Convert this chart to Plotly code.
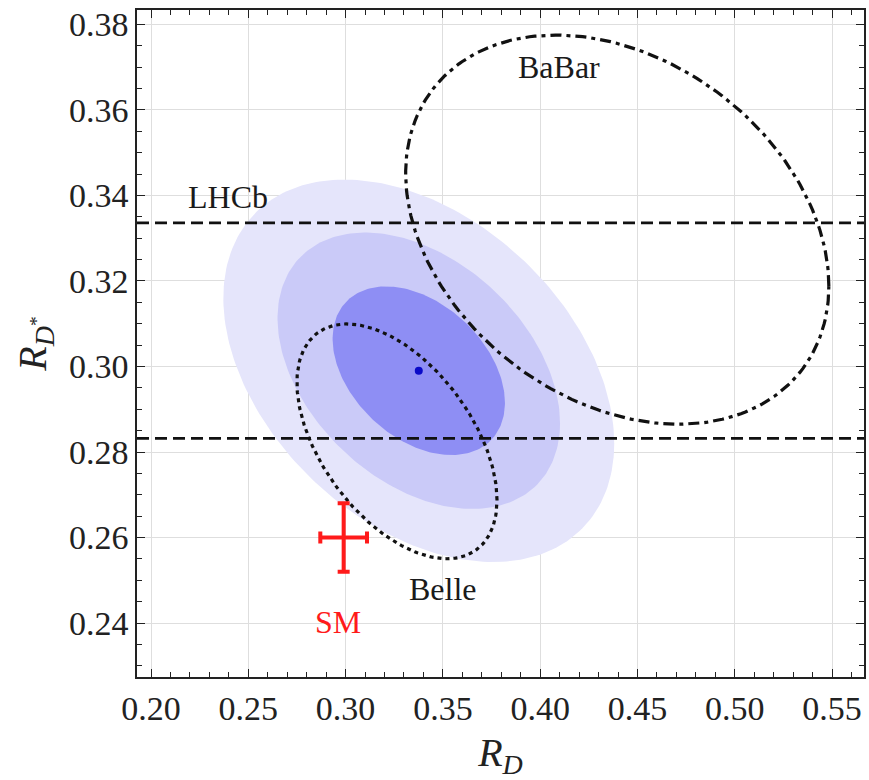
import numpy as np
import plotly.graph_objects as go

# ---- data -------------------------------------------------------------
# Global fit (filled contours): centre, uncertainties, correlation
fit_center = [0.3376, 0.2990]
fit_sigma = [0.0292, 0.0130]
fit_rho = -0.38
fit_dchi2 = [11.83, 6.18, 2.30]          # 3 sigma, 2 sigma, 1 sigma (2 d.o.f.)
fit_colors = ["#e5e5fb", "#cacaf8", "#8e8ef4"]

# Belle measurement (dotted contour)
belle_center = [0.3264, 0.2825]
belle_sigma = [0.0339, 0.0181]
belle_rho = -0.50

# BaBar measurement (dash-dotted contour)
babar_center = [0.4396, 0.3320]
babar_sigma = [0.0717, 0.0300]
babar_rho = -0.29

meas_dchi2 = 2.30                       # 68% CL in 2D

# LHCb band in R_D* (dashed lines)
lhcb_band = [0.2832, 0.3336]

# Standard Model prediction
sm_value = [0.299, 0.260]
sm_error = [0.012, 0.008]

# Axis ticks
x_ticks = [0.20, 0.25, 0.30, 0.35, 0.40, 0.45, 0.50, 0.55]
y_ticks = [0.24, 0.26, 0.28, 0.30, 0.32, 0.34, 0.36, 0.38]
x_range = [0.1928, 0.5664]
y_range = [0.2274, 0.38335]

# Text labels
labels = [
    ("BaBar", 0.4097, 0.3700, "#1a1a1a"),
    ("LHCb", 0.2398, 0.3397, "#1a1a1a"),
    ("Belle", 0.3499, 0.2480, "#1a1a1a"),
    ("SM", 0.2961, 0.2402, "#ff1a1a"),
]


def ellipse(center, sigma, rho, dchi2, n=240):
    cov = np.array([[sigma[0] ** 2, rho * sigma[0] * sigma[1]],
                    [rho * sigma[0] * sigma[1], sigma[1] ** 2]])
    L = np.linalg.cholesky(cov)
    t = np.linspace(0, 2 * np.pi, n)
    unit = np.vstack([np.cos(t), np.sin(t)]) * np.sqrt(dchi2)
    pts = L @ unit
    return pts[0] + center[0], pts[1] + center[1]


SERIF = "Liberation Serif"
fig = go.Figure()

# filled fit contours, outermost first
for q, col in zip(fit_dchi2, fit_colors):
    ex, ey = ellipse(fit_center, fit_sigma, fit_rho, q)
    fig.add_trace(go.Scatter(x=ex, y=ey, mode="lines", fill="toself",
                             fillcolor=col, line=dict(width=0),
                             hoverinfo="skip", showlegend=False))

# best-fit point
fig.add_trace(go.Scatter(x=[fit_center[0]], y=[fit_center[1]], mode="markers",
                         marker=dict(size=8, color="#0a0ac8"),
                         showlegend=False))

# Belle contour
bx, by = ellipse(belle_center, belle_sigma, belle_rho, meas_dchi2)
fig.add_trace(go.Scatter(x=bx, y=by, mode="lines",
                         line=dict(color="#111111", width=3.2, dash="4px,4px"),
                         showlegend=False))

# BaBar contour
ax_, ay_ = ellipse(babar_center, babar_sigma, babar_rho, meas_dchi2)
fig.add_trace(go.Scatter(x=ax_, y=ay_, mode="lines",
                         line=dict(color="#111111", width=3.2,
                                   dash="11px,5px,4px,5px"),
                         showlegend=False))

# LHCb band edges
for yv in lhcb_band:
    fig.add_trace(go.Scatter(x=x_range, y=[yv, yv], mode="lines",
                             line=dict(color="#111111", width=2.8,
                                       dash="12px,6px"),
                             showlegend=False))

# SM point with error bars
fig.add_trace(go.Scatter(
    x=[sm_value[0]], y=[sm_value[1]], mode="markers",
    marker=dict(size=1, color="#ff1a1a"),
    error_x=dict(type="constant", value=sm_error[0], color="#ff1a1a",
                 thickness=4, width=6),
    error_y=dict(type="constant", value=sm_error[1], color="#ff1a1a",
                 thickness=4, width=6),
    showlegend=False))

for text, x, y, col in labels:
    fig.add_annotation(x=x, y=y, text=text, showarrow=False,
                       font=dict(family=SERIF, size=32, color=col))

axis_common = dict(
    showline=True, linecolor="#222222", linewidth=1.5, mirror="allticks",
    ticks="inside", ticklen=8, tickwidth=1.3, tickcolor="#222222",
    showgrid=True, gridcolor="#dedede", gridwidth=1,
    zeroline=False,
    tickfont=dict(family=SERIF, size=34, color="#222222"),
    tickformat=".2f",
)

fig.update_xaxes(
    range=x_range, tickmode="array", tickvals=x_ticks,
    minor=dict(dtick=0.01, ticks="inside", ticklen=5, tickwidth=1.1,
               tickcolor="#222222", showgrid=False),
    title=dict(text="<i>R</i><sub><i>D</i></sub>",
               font=dict(family=SERIF, size=40, color="#222222"),
               standoff=12),
    **axis_common)
fig.update_yaxes(
    range=y_range, tickmode="array", tickvals=y_ticks,
    minor=dict(dtick=0.005, ticks="inside", ticklen=5, tickwidth=1.1,
               tickcolor="#222222", showgrid=False),
    title=dict(text="<i>R</i><sub><i>D</i><sup>*</sup></sub>",
               font=dict(family=SERIF, size=40, color="#222222"),
               standoff=10),
    **axis_common)

fig.update_layout(
    width=869, height=780,
    margin=dict(l=137, r=3, t=10, b=103),
    paper_bgcolor="white", plot_bgcolor="white",
)

fig.write_html("out.html")
